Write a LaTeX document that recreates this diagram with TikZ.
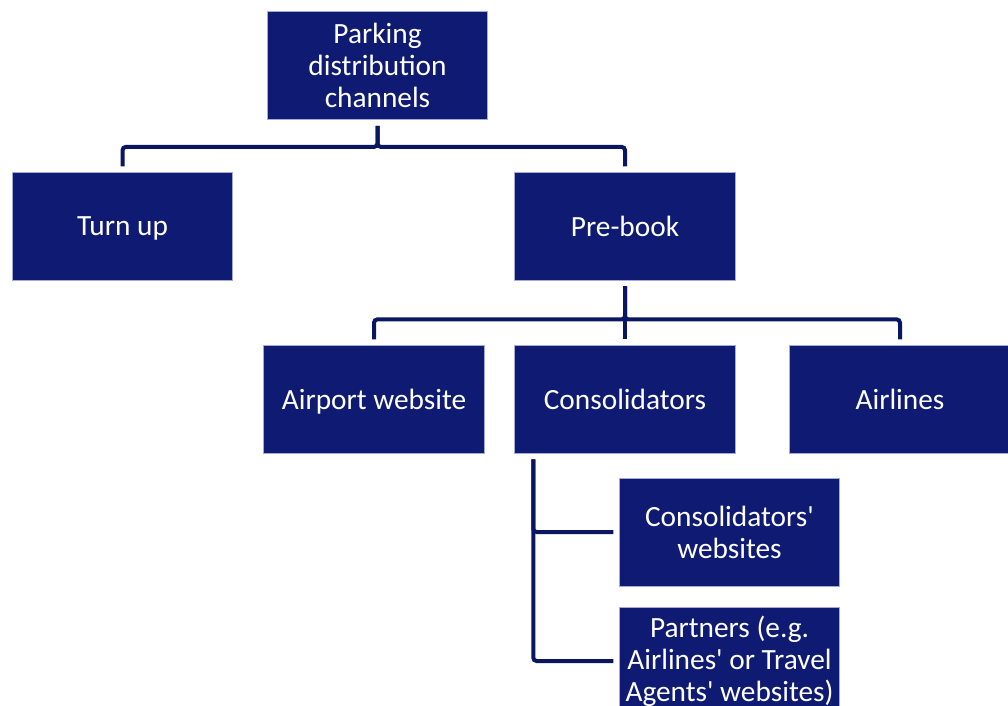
\documentclass[tikz,border=0pt]{standalone}
\usepackage{fontspec}
\setmainfont{Carlito}
\usepackage{tikz}
\usetikzlibrary{calc}
\usepackage{xcolor}
\definecolor{boxblue}{RGB}{15,27,115}
\definecolor{linkblue}{RGB}{11,22,96}
\definecolor{rimblue}{RGB}{165,170,215}
\tikzstyle{chan}=[rectangle, fill=boxblue, draw=rimblue, line width=.6pt, text=white, align=center, minimum width=165.5pt, minimum height=81pt, inner sep=0pt, font=\fontsize{22}{24}\selectfont]
\tikzstyle{chanone}=[chan, text depth=0pt]
\tikzstyle{link}=[draw=linkblue, line width=3pt, rounded corners=2.5pt, shorten <=4.5pt, shorten >=4pt]
\newcommand{\apos}{\textquotesingle}

\begin{document}
\begin{tikzpicture}[x=.75pt, y=-.75pt]
 \useasboundingbox (0,0) rectangle (1008,706);
%
 \node[chan] (top) at (377.5,65.5) {Parking\\distribution\\channels};
 \node[chanone] (turnup) at (122.5,226) {Turn up};
 \node[chanone] (prebook) at (625,226) {Pre-book};
%
 \node[chanone] (airport) at (374,399) {Airport website};
 \node[chanone] (consol) at (625,399) {Consolidators};
 \node[chanone] (airlines) at (900,399) {Airlines};
%
 \node[chan] (consweb) at (729.5,532) {Consolidators\apos\\websites};
 \node[chan] (partners) at (729.5,661) {Partners (e.g.\\Airlines\apos{} or Travel\\Agents\apos{} websites)};
%
 \draw[link] (top.south) -- ++(0,27) -| (turnup.north);
 \draw[link] (top.south) -- ++(0,27) -| (prebook.north);
%
 \draw[link] (prebook.south) -- ++(0,39) -| (airport.north);
 \draw[link] (prebook.south) -- ++(0,39) -| (airlines.north);
 \draw[link] (prebook.south) -- (consol.north);
%
 \coordinate (cv) at ($(consol.south west)+(19,0)$);
 \draw[link] (cv) |- (consweb.west);
 \draw[link] (cv) |- (partners.west);
\end{tikzpicture}
\end{document}
